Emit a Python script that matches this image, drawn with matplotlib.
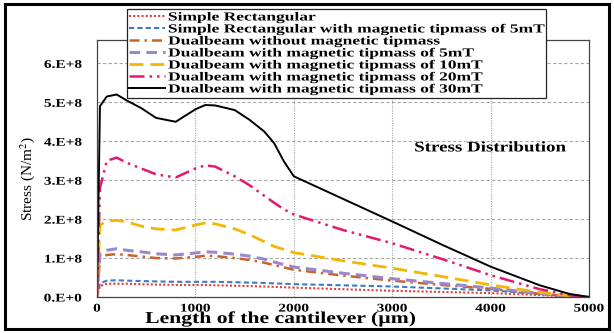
import numpy as np
import matplotlib
matplotlib.use('Agg')
import matplotlib.pyplot as plt
import matplotlib.patheffects as pe
from matplotlib.transforms import Affine2D
from matplotlib.patches import Rectangle

# data (stress in units of 1e8 N/m^2)
length = [0, 30, 100, 200, 300, 450, 600, 800, 1000, 1100, 1200, 1400, 1550, 1700,
          1800, 1900, 2000, 2500, 3000, 3500, 4000, 4500, 4800, 5000]
simple_rect = [0, 0.28, 0.34, 0.34, 0.34, 0.33, 0.32, 0.31, 0.31, 0.31, 0.30, 0.29, 0.28, 0.27,
               0.26, 0.25, 0.24, 0.20, 0.16, 0.13, 0.10, 0.05, 0.01, 0]
simple_rect_5mT = [0, 0.35, 0.42, 0.43, 0.42, 0.41, 0.40, 0.39, 0.39, 0.39, 0.39, 0.38, 0.37, 0.36,
                   0.35, 0.34, 0.33, 0.30, 0.27, 0.22, 0.17, 0.08, 0.02, 0]
dual_none = [0, 1.00, 1.08, 1.10, 1.08, 1.04, 1.00, 0.99, 1.03, 1.06, 1.05, 1.00, 0.95, 0.88,
             0.82, 0.76, 0.70, 0.55, 0.42, 0.31, 0.21, 0.08, 0.02, 0]
dual_5mT = [0, 1.10, 1.20, 1.24, 1.20, 1.16, 1.11, 1.08, 1.13, 1.16, 1.15, 1.10, 1.05, 0.97,
            0.90, 0.83, 0.77, 0.61, 0.47, 0.35, 0.23, 0.09, 0.02, 0]
dual_10mT = [0, 1.85, 1.95, 1.97, 1.93, 1.82, 1.75, 1.72, 1.85, 1.90, 1.88, 1.75, 1.60, 1.42,
             1.30, 1.22, 1.14, 0.93, 0.74, 0.53, 0.31, 0.12, 0.03, 0]
dual_20mT = [0, 2.80, 3.50, 3.58, 3.45, 3.30, 3.15, 3.07, 3.30, 3.38, 3.35, 3.10, 2.87, 2.60,
             2.42, 2.25, 2.12, 1.72, 1.38, 0.98, 0.56, 0.20, 0.05, 0]
dual_30mT = [0, 4.90, 5.15, 5.20, 5.05, 4.85, 4.60, 4.50, 4.82, 4.93, 4.92, 4.80, 4.55, 4.25,
             3.95, 3.48, 3.10, 2.52, 1.94, 1.35, 0.78, 0.30, 0.08, 0]

labels = ['Simple Rectangular',
          'Simple Rectangular with magnetic tipmass of 5mT',
          'Dualbeam without magnetic tipmass',
          'Dualbeam with magnetic tipmass of 5mT',
          'Dualbeam with magnetic tipmass of 10mT',
          'Dualbeam with magnetic tipmass of 20mT',
          'Dualbeam with magnetic tipmass of 30mT']
xticks = [0, 1000, 2000, 3000, 4000, 5000]
yticks = [0, 1e8, 2e8, 3e8, 4e8, 5e8, 6e8]
ytick_labels = ['0.E+0', '1.E+8', '2.E+8', '3.E+8', '4.E+8', '5.E+8', '6.E+8']


# the source picture is stretched sideways, so stretch the text the same way
class Stretch(pe.AbstractPathEffect):
    def __init__(self, sx=1.3, anchor='center'):
        super().__init__()
        self.sx = sx
        self.anchor = anchor

    def draw_path(self, renderer, gc, tpath, affine, rgbFace=None):
        ext = tpath.get_extents()
        cx = {'left': ext.x0, 'center': (ext.x0 + ext.x1) / 2, 'right': ext.x1}[self.anchor]
        t = Affine2D().translate(-cx, 0).scale(self.sx, 1).translate(cx, 0)
        renderer.draw_path(gc, tpath, t + affine, rgbFace)


plt.rcParams['font.family'] = ['Liberation Serif', 'DejaVu Serif']
plt.rcParams['mathtext.fontset'] = 'stix'

fig = plt.figure(figsize=(6.14, 3.33), dpi=100)
ax = fig.add_axes([97/614, 1 - 297/333, 492/614, 257/333])

styles = [
    dict(color='#e2403a', lw=1.5, ls=(0, (1, 1))),
    dict(color='#3b7dc4', lw=1.5, ls=(0, (2.5, 1.5))),
    dict(color='#c8642a', lw=1.8, ls=(0, (4, 2, 1, 2))),
    dict(color='#9d87cc', lw=2.2, ls=(0, (3.5, 2))),
    dict(color='#f2b705', lw=2.0, ls=(0, (5, 2.5))),
    dict(color='#e3196f', lw=1.8, ls=(0, (6, 2, 1, 2, 1, 2))),
    dict(color='black', lw=1.4, ls='-'),
]
series = [simple_rect, simple_rect_5mT, dual_none, dual_5mT, dual_10mT, dual_20mT, dual_30mT]
for ys, st, lab in zip(series, styles, labels):
    ax.plot(length, np.array(ys) * 1e8, label=lab, **st)

ax.set_xlim(0, 5000)
ax.set_ylim(0, 6.6e8)
ax.set_xticks(xticks)
ax.set_yticks(yticks)
ax.set_yticklabels(ytick_labels)
ax.tick_params(length=0, labelsize=8.5)
ax.tick_params(axis='y', pad=11)
ax.tick_params(axis='x', pad=4)
for t in ax.get_yticklabels():
    t.set_fontweight('bold')
    t.set_path_effects([Stretch(1.3, 'right')])
for t in ax.get_xticklabels():
    t.set_fontweight('bold')
    t.set_path_effects([Stretch(1.3, 'center')])

for y in yticks[1:]:
    ax.axhline(y, color='#a8a8a8', lw=0.8, ls=(0, (3, 2)), zorder=0)
for x in xticks[1:-1]:
    ax.axvline(x, color='#a8a8a8', lw=0.8, ls=(0, (1, 1.2)), zorder=0)
for s in ax.spines.values():
    s.set_color('#444444')
    s.set_linewidth(0.9)

ax.text(0.8, 0.58, 'Stress Distribution', transform=ax.transAxes, ha='center', va='center',
        fontsize=10.5, fontweight='bold', path_effects=[Stretch(1.3, 'center')])

fig.text(280/614, 1 - 319/333, 'Length of the cantilever (\u00b5m)', ha='center', va='center',
         fontsize=12, fontweight='bold', path_effects=[Stretch(1.3, 'center')])
fig.text(28/614, 1 - 178/333, 'Stress (N/m$^2$)', ha='center', va='center', rotation=90,
         fontsize=11)

leg = fig.legend(loc='upper left', bbox_to_anchor=(127/614, 1 - 95/333, 419/614, 86/333),
                 mode='expand', borderaxespad=0, fancybox=False, framealpha=1,
                 edgecolor='#222222', prop=dict(size=8.85, weight='bold'),
                 handlelength=2.9, handletextpad=0.25, labelspacing=0.0, borderpad=0.2)
leg.get_frame().set_linewidth(0.9)
for t in leg.get_texts():
    t.set_path_effects([Stretch(1.42, 'left')])

fig.patches.append(Rectangle((5/614, 4/333), 604/614, 325/333, transform=fig.transFigure,
                             fill=False, edgecolor='black', lw=2.2))

fig.savefig('out.png', dpi=100)
